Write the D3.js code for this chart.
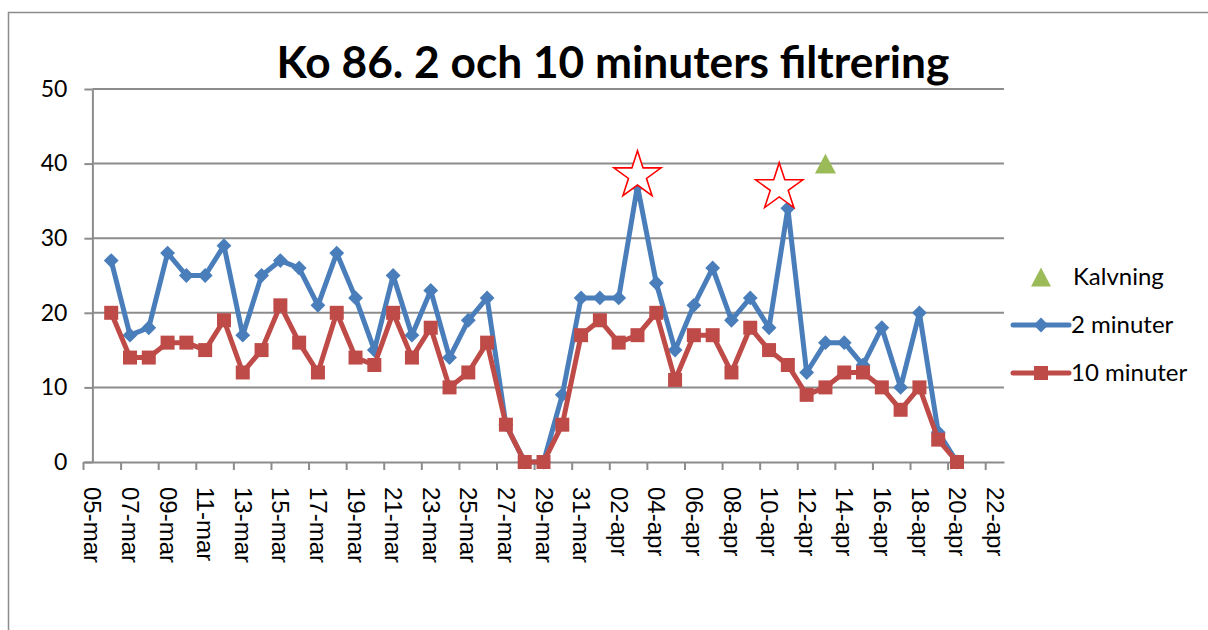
<!DOCTYPE html>
<html>
<head>
<meta charset="utf-8">
<script src="https://cdn.jsdelivr.net/npm/d3@7"></script>
<style>
body { margin: 0; background: #fff; }
</style>
</head>
<body>
<div id="chart"></div>
<script>
const width = 1208,
    height = 630
const margin = {
    top: 89,
    right: 204,
    bottom: 168,
    left: 83
}

// data
const dates = ['06-mar', '07-mar', '08-mar', '09-mar', '10-mar', '11-mar', '12-mar', '13-mar', '14-mar',
    '15-mar', '16-mar', '17-mar', '18-mar', '19-mar', '20-mar', '21-mar', '22-mar', '23-mar', '24-mar',
    '25-mar', '26-mar', '27-mar', '28-mar', '29-mar', '30-mar', '31-mar',
    '01-apr', '02-apr', '03-apr', '04-apr', '05-apr', '06-apr', '07-apr', '08-apr', '09-apr', '10-apr',
    '11-apr', '12-apr', '13-apr', '14-apr', '15-apr', '16-apr', '17-apr', '18-apr', '19-apr', '20-apr']
const twoMin = [27, 17, 18, 28, 25, 25, 29, 17, 25, 27, 26, 21, 28, 22, 15, 25, 17, 23, 14, 19, 22, 5, 0, 0, 9, 22,
    22, 22, 37, 24, 15, 21, 26, 19, 22, 18, 34, 12, 16, 16, 13, 18, 10, 20, 4, 0]
const tenMin = [20, 14, 14, 16, 16, 15, 19, 12, 15, 21, 16, 12, 20, 14, 13, 20, 14, 18, 10, 12, 16, 5, 0, 0, 5, 17,
    19, 16, 17, 20, 11, 17, 17, 12, 18, 15, 13, 9, 10, 12, 12, 10, 7, 10, 3, 0]
const tickLabels = ['05-mar', '07-mar', '09-mar', '11-mar', '13-mar', '15-mar', '17-mar', '19-mar', '21-mar',
    '23-mar', '25-mar', '27-mar', '29-mar', '31-mar', '02-apr', '04-apr', '06-apr', '08-apr', '10-apr',
    '12-apr', '14-apr', '16-apr', '18-apr', '20-apr', '22-apr']
const yTicks = [0, 10, 20, 30, 40, 50]
const calvingDates = ['13-apr']
const calvingValues = [40]
const starDates = ['03-apr 00', '10-apr 13']
const starValues = [38.4, 36.8]
const seriesNames = ['Kalvning', '2 minuter', '10 minuter']
const seriesColors = ['#9BBB59', '#4A7EBB', '#BE4B48']

const parseDay = d3.timeParse('%d-%b')
const parseHour = d3.timeParse('%d-%b %H')

const svg = d3.select('#chart')
    .append('svg')
    .attr('width', width)
    .attr('height', height)

// chart border (runs off the right and bottom edge)
svg.append('rect')
    .attr('x', 8.5).attr('y', 12.5)
    .attr('width', 1220).attr('height', 640)
    .attr('fill', 'none')
    .attr('stroke', '#8c8c8c')
    .attr('stroke-width', 1.5)

const x = d3.scaleTime()
    .domain([d3.timeHour.offset(parseDay('05-mar'), -12), d3.timeHour.offset(parseDay('22-apr'), 12)])
    .range([margin.left, width - margin.right])
const y = d3.scaleLinear()
    .domain([0, 50])
    .range([height - margin.bottom, margin.top])

const halfDay = (x(parseDay('06-mar')) - x(parseDay('05-mar'))) / 2
const yAxisX = x(parseDay('05-mar'))
const plotRight = width - margin.right

// gridlines
svg.append('g')
    .selectAll('line')
    .data(yTicks.filter(d => d > 0))
    .enter().append('line')
    .attr('x1', yAxisX).attr('x2', plotRight)
    .attr('y1', d => y(d)).attr('y2', d => y(d))
    .attr('stroke', '#8c8c8c')
    .attr('stroke-width', 2)

// y axis
const yAxis = svg.append('g')
    .attr('transform', 'translate(' + yAxisX + ',0)')
    .call(d3.axisLeft(y).tickValues(yTicks).tickSize(8).tickSizeOuter(0).tickPadding(17))
yAxis.select('.domain').attr('stroke', '#8c8c8c').attr('stroke-width', 2)
yAxis.selectAll('.tick line').attr('stroke', '#8c8c8c').attr('stroke-width', 2)
yAxis.selectAll('.tick text')
    .attr('font-family', 'Lato, sans-serif')
    .attr('font-size', 23)
    .attr('fill', '#000')

// x axis
const tickDates = tickLabels.map(parseDay)
const xAxis = svg.append('g')
    .attr('transform', 'translate(0,' + y(0) + ')')
    .call(d3.axisBottom(x).tickValues(tickDates).tickSize(8).tickSizeOuter(0)
        .tickFormat((d, i) => tickLabels[i]))
xAxis.select('.domain').attr('stroke', '#8c8c8c').attr('stroke-width', 2)
xAxis.selectAll('.tick line')
    .attr('x1', -halfDay).attr('x2', -halfDay)
    .attr('stroke', '#8c8c8c').attr('stroke-width', 2)
xAxis.selectAll('.tick text')
    .attr('transform', 'rotate(90)')
    .attr('x', 25).attr('y', 0)
    .attr('dy', '0.35em')
    .attr('text-anchor', 'start')
    .attr('font-family', '"Liberation Sans", Arial, sans-serif')
    .attr('font-size', 24)
    .attr('fill', '#000')

// series
const points = dates.map(function (d, i) {
    return { date: parseDay(d), two: twoMin[i], ten: tenMin[i] }
})

const line = d3.line()
    .x(d => x(d.date))

function drawSeries(key, color, symbol, size, rotate) {
    const g = svg.append('g')
    g.append('path')
        .datum(points)
        .attr('d', line.y(d => y(d[key])))
        .attr('fill', 'none')
        .attr('stroke', color)
        .attr('stroke-width', 5)
        .attr('stroke-linejoin', 'round')
        .attr('stroke-linecap', 'round')
    g.selectAll('path.marker')
        .data(points)
        .enter().append('path')
        .attr('class', 'marker')
        .attr('d', d3.symbol(symbol, size))
        .attr('transform', d => 'translate(' + x(d.date) + ',' + y(d[key]) + ') rotate(' + rotate + ')')
        .attr('fill', color)
}
drawSeries('two', seriesColors[1], d3.symbolSquare, 110, 45)
drawSeries('ten', seriesColors[2], d3.symbolSquare, 196, 0)

// triangle centred on its bounding box
function triangle(w) {
    const h = w * 0.95
    return 'M0,' + (-h / 2) + 'L' + (w / 2) + ',' + (h / 2) + 'L' + (-w / 2) + ',' + (h / 2) + 'Z'
}

svg.append('g')
    .selectAll('path')
    .data(calvingDates)
    .enter().append('path')
    .attr('d', triangle(21))
    .attr('transform', (d, i) => 'translate(' + x(parseDay(d)) + ',' + y(calvingValues[i]) + ')')
    .attr('fill', seriesColors[0])

// red stars
svg.append('g')
    .selectAll('path')
    .data(starDates)
    .enter().append('path')
    .attr('d', d3.symbol(d3.symbolStar, 690))
    .attr('transform', (d, i) => 'translate(' + x(parseHour(d)) + ',' + y(starValues[i]) + ')')
    .attr('fill', '#fff')
    .attr('stroke', '#ff0000')
    .attr('stroke-width', 1.6)

// legend
const legend = svg.append('g')
    .selectAll('g')
    .data(seriesNames)
    .enter().append('g')
    .attr('transform', (d, i) => 'translate(1041,' + (277 + i * 48) + ')')

legend.filter((d, i) => i > 0).append('line')
    .attr('x1', -28).attr('x2', 28)
    .attr('stroke', (d, i) => seriesColors[i + 1])
    .attr('stroke-width', 5)
    .attr('stroke-linecap', 'round')
legend.filter((d, i) => i === 0).append('path')
    .attr('d', triangle(20))
    .attr('fill', seriesColors[0])
legend.filter((d, i) => i === 1).append('path')
    .attr('d', d3.symbol(d3.symbolSquare, 110))
    .attr('transform', 'rotate(45)')
    .attr('fill', seriesColors[1])
legend.filter((d, i) => i === 2).append('path')
    .attr('d', d3.symbol(d3.symbolSquare, 196))
    .attr('fill', seriesColors[2])
legend.append('text')
    .attr('x', (d, i) => i === 0 ? 32 : 30)
    .attr('dy', '0.35em')
    .attr('font-family', 'Lato, sans-serif')
    .attr('font-size', 24)
    .attr('fill', '#000')
    .text(d => d)

// title, sized to the reference width
const title = svg.append('text')
    .attr('x', 613)
    .attr('y', 78)
    .attr('text-anchor', 'middle')
    .attr('font-family', 'Lato, sans-serif')
    .attr('font-weight', 'bold')
    .attr('font-size', 40)
    .attr('fill', '#000')
    .text('Ko 86. 2 och 10 minuters filtrering')
const tw = title.node().getComputedTextLength()
title.attr('font-size', 40 * 673 / tw)
</script>
</body>
</html>
